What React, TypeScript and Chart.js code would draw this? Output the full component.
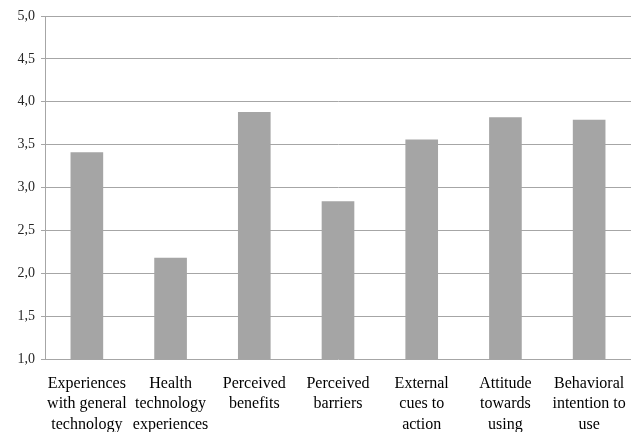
import React, { useEffect, useRef } from "react";
import { Chart, registerables } from "chart.js";

Chart.register(...registerables);

const categories: string[][] = [
  ["Experiences", "with general", "technology"],
  ["Health", "technology", "experiences"],
  ["Perceived", "benefits"],
  ["Perceived", "barriers"],
  ["External", "cues to", "action"],
  ["Attitude", "towards", "using"],
  ["Behavioral", "intention to", "use"],
];

const values: number[] = [3.41, 2.18, 3.88, 2.84, 3.56, 3.82, 3.79];

const yMin = 1;
const yMax = 5;
const yStep = 0.5;

export default function App() {
  const canvasRef = useRef<HTMLCanvasElement | null>(null);

  useEffect(() => {
    const canvas = canvasRef.current;
    if (!canvas) return;
    const chart = new Chart(canvas, {
      type: "bar",
      data: {
        labels: categories,
        datasets: [
          {
            data: values,
            backgroundColor: "#a5a5a5",
            borderWidth: 0,
            barPercentage: 0.39,
            categoryPercentage: 1,
          },
        ],
      },
      options: {
        responsive: false,
        animation: false,
        devicePixelRatio: 1,
        layout: { padding: { top: 16, right: 2, left: 0, bottom: 0 } },
        plugins: {
          legend: { display: false },
          tooltip: { enabled: false },
        },
        scales: {
          x: {
            grid: { display: false, drawTicks: false },
            border: { display: false },
            ticks: {
              color: "#000000",
              padding: 14,
              maxRotation: 0,
              autoSkip: false,
              font: { family: "'Liberation Serif', 'Times New Roman', serif", size: 16, lineHeight: 1.3 },
            },
            afterFit: (scale: any) => {
              scale.height = 73;
              scale.paddingLeft = 0;
              scale.paddingRight = 0;
            },
          },
          y: {
            min: yMin,
            max: yMax,
            grid: { color: "#a6a6a6", lineWidth: 1, drawTicks: true, tickLength: 4 },
            border: { display: true, color: "#a6a6a6", width: 1 },
            ticks: {
              stepSize: yStep,
              color: "#262626",
              padding: 6,
              font: { family: "'Liberation Serif', 'Times New Roman', serif", size: 14 },
              callback: (v: any) => Number(v).toFixed(1).replace(".", ","),
            },
            afterFit: (scale: any) => {
              scale.width = 45;
            },
          },
        },
      },
    });
    return () => chart.destroy();
  }, []);

  return (
    <div style={{ position: "fixed", left: 0, top: 0, width: 633, height: 432, background: "#ffffff" }}>
      <canvas ref={canvasRef} width={633} height={432} style={{ width: 633, height: 432 }} />
    </div>
  );
}
